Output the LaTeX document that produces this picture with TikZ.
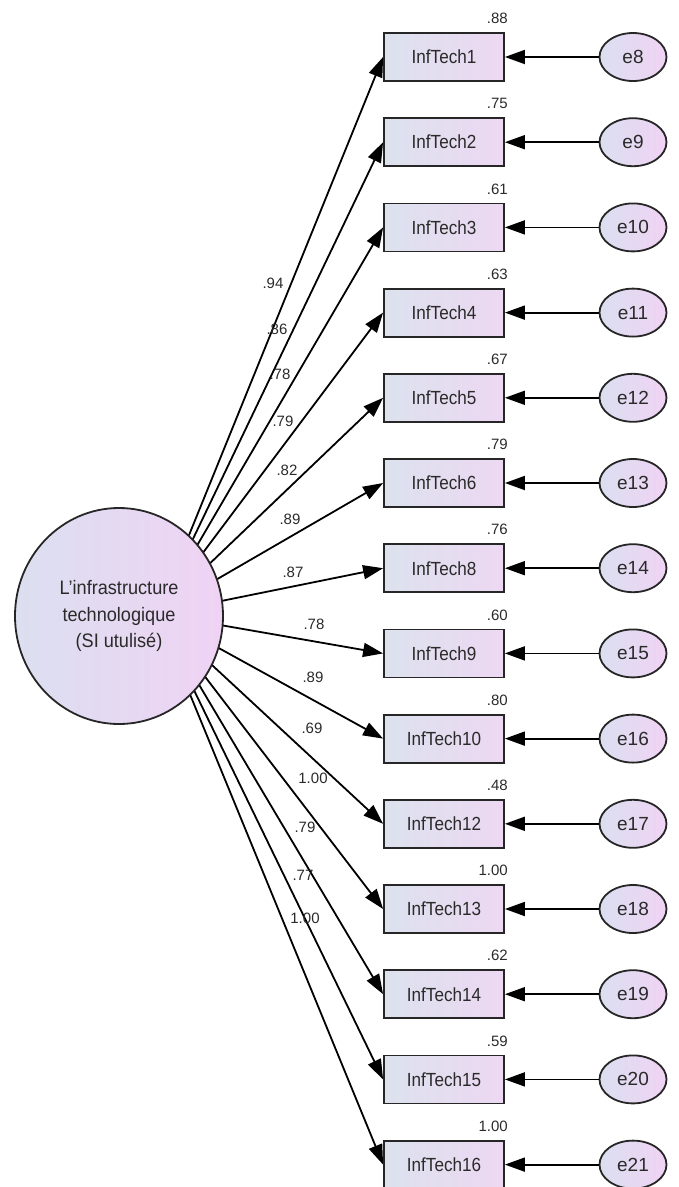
\documentclass[tikz,border=0pt]{standalone}
\usepackage{fontspec}
\setmainfont{Liberation Sans}
\usetikzlibrary{arrows.meta,backgrounds,shapes.geometric}
\definecolor{boxL}{HTML}{DCE2EE}
\definecolor{boxR}{HTML}{EDD8F2}
\definecolor{ovL}{HTML}{DBDFF0}
\definecolor{ovR}{HTML}{F0D3F4}
\definecolor{txt}{HTML}{2A2A2A}
% slightly narrowed lettering
\newcommand\narrowtxt[2]{\scalebox{#1}[1]{#2}}
\begin{document}
\begin{tikzpicture}[x=1pt,y=-1pt,
  obs/.style={draw=black!85, line width=1.8pt, minimum width=120pt,
    minimum height=48pt, inner sep=0pt, left color=boxL, right color=boxR,
    font=\fontsize{19}{22}\selectfont, text=txt},
  err/.style={ellipse, draw=black!85, line width=1.8pt, minimum width=67pt,
    minimum height=48pt, inner sep=0pt, left color=ovL, right color=ovR,
    font=\fontsize{19}{22}\selectfont, text=txt},
  lat/.style={ellipse, draw=black!85, line width=1.8pt, minimum width=208pt,
    minimum height=216pt, inner sep=0pt, left color=ovL, right color=ovR,
    align=center, font=\fontsize{19.5}{26.5}\selectfont, text=txt},
  load/.style={-{Triangle[length=20pt,width=14pt]}, line width=1.8pt},
  coef/.style={font=\fontsize{15}{17}\selectfont, text=txt, inner sep=0pt}
]
\useasboundingbox (0,0) rectangle (678,1187);

% latent variable
\node[lat] (L) at (119,616) {\narrowtxt{0.93}{L'infrastructure}\\
  \narrowtxt{0.93}{technologique}\\\narrowtxt{0.93}{(SI utulisé)}};
\coordinate (hub) at (157,614);

% indicators, error terms and squared multiple correlations
\foreach \i/\name/\err/\r in {
  1/InfTech1/e8/.88, 2/InfTech2/e9/.75, 3/InfTech3/e10/.61,
  4/InfTech4/e11/.63, 5/InfTech5/e12/.67, 6/InfTech6/e13/.79,
  7/InfTech8/e14/.76, 8/InfTech9/e15/.60, 9/InfTech10/e16/.80,
  10/InfTech12/e17/.48, 11/InfTech13/e18/1.00, 12/InfTech14/e19/.62,
  13/InfTech15/e20/.59, 14/InfTech16/e21/1.00} {
  \pgfmathsetmacro\yy{57+(\i-1)*85.2}
  \node[obs] (b\i) at (444,\yy) {\narrowtxt{0.9}{\name}};
  \node[err] (e\i) at (633,\yy) {\err};
  \draw[load] (e\i) -- (b\i);
  \node[coef, anchor=south east] (r\i) at ([xshift=3pt,yshift=8pt]b\i.north east) {\r};
  \begin{scope}[on background layer]
    \draw[load] (hub) -- (b\i.west);
  \end{scope}
}

% standardized loadings
\foreach \i/\v/\lx/\ly in {
  1/.94/273/283, 2/.86/277/329, 3/.78/280/374, 4/.79/283/421,
  5/.82/287/470, 6/.89/290/519, 7/.87/293/572, 8/.78/314/624,
  9/.89/313/677, 10/.69/312/728, 11/1.00/313/778, 12/.79/305/827,
  13/.77/303/875, 14/1.00/305/918} {
  \node[coef] (w\i) at (\lx,\ly) {\v};
}
\end{tikzpicture}
\end{document}
